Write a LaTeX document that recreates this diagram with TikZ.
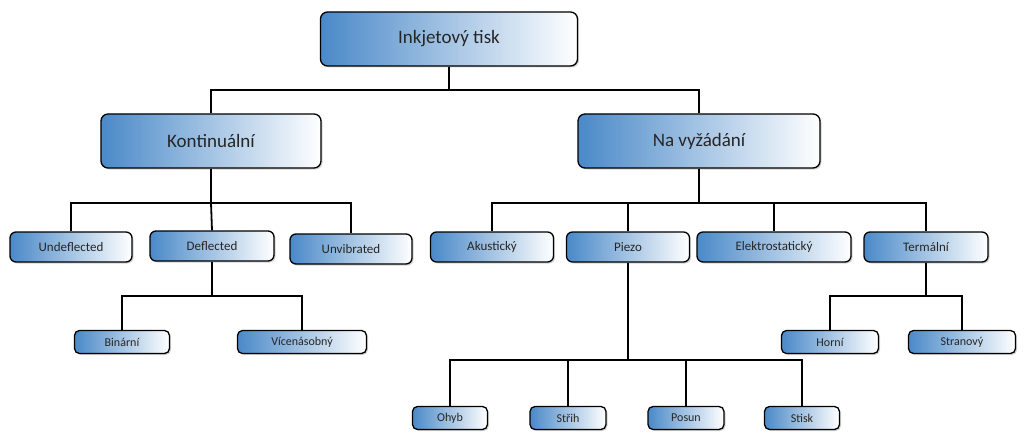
\documentclass[tikz,border=0pt]{standalone}
\usepackage{fontspec}
\setmainfont{Carlito}
\usetikzlibrary{shadows}
\definecolor{boxblue}{HTML}{4A89C8}
\definecolor{txtgray}{HTML}{262626}
\tikzstyle{box} = [rectangle, rounded corners=7pt, draw=black, line width=1.3pt, left color=boxblue, right color=white, text=txtgray, inner sep=0pt, drop shadow={shadow xshift=1.5pt, shadow yshift=-1.5pt, opacity=0.35}]
\tikzstyle{big} = [box, minimum height=54pt, font=\fontsize{19}{22}\selectfont]
\tikzstyle{mid} = [box, minimum height=30pt, rounded corners=6pt, font=\fontsize{13}{15}\selectfont]
\tikzstyle{small} = [box, minimum height=23pt, rounded corners=5pt, font=\fontsize{12}{14}\selectfont]
\tikzstyle{line} = [line width=1.8pt, black]

\begin{document}
\begin{tikzpicture}[x=1pt, y=-1pt]
\useasboundingbox (0,0) rectangle (1024,441);
% Nodi principali
\node (inkjet) [big, minimum width=257pt] at (449,39) {Inkjetový tisk};
\node (kont) [big, minimum width=220pt] at (211,141) {Kontinuální};
\node (navyz) [big, minimum width=242pt] at (699,141) {Na vyžádání};
% Kontinualni
\node (undefl) [mid, minimum width=122pt] at (71,247) {Undeflected};
\node (defl) [mid, minimum width=124pt] at (212,246) {Deflected};
\node (unvib) [mid, minimum width=122pt] at (351,249) {Unvibrated};
\node (binar) [small, minimum width=95pt] at (122,342) {Binární};
\node (vicen) [small, minimum width=129pt] at (302,342) {Vícenásobný};
% Na vyzadani
\node (akust) [mid, minimum width=123pt] at (492,247) {Akustický};
\node (piezo) [mid, minimum width=123pt] at (628,247) {Piezo};
\node (elektro) [mid, minimum width=154pt] at (774,247) {Elektrostatický};
\node (termal) [mid, minimum width=124pt] at (926,247) {Termální};
\node (horni) [small, minimum width=97pt] at (830,342) {Horní};
\node (stran) [small, minimum width=107pt] at (962,342) {Stranový};
\node (ohyb) [small, minimum width=75pt] at (450,418) {Ohyb};
\node (strih) [small, minimum width=76pt] at (568,418) {Střih};
\node (posun) [small, minimum width=76pt] at (686,418) {Posun};
\node (stisk) [small, minimum width=75pt] at (802,418) {Stisk};

% Spojnice
\begin{scope}[on background layer/.style={}]
\draw [line] (inkjet.south) -- (449,90) -| (kont.north);
\draw [line] (449,90) -| (navyz.north);
\draw [line] (kont.south) -- (211,203) -| (undefl.north);
\draw [line] (211,203) -| (unvib.north);
\draw [line] (211,203) -- (defl.north);
\draw [line] (defl.south) -- (212,296) -| (binar.north);
\draw [line] (212,296) -| (vicen.north);
\draw [line] (navyz.south) -- (699,203) -| (akust.north);
\draw [line] (699,203) -| (termal.north);
\draw [line] (628,203) -- (piezo.north);
\draw [line] (774,203) -- (elektro.north);
\draw [line] (termal.south) -- (926,296) -| (horni.north);
\draw [line] (926,296) -| (stran.north);
\draw [line] (piezo.south) -- (628,360) -| (ohyb.north);
\draw [line] (628,360) -| (stisk.north);
\draw [line] (568,360) -- (strih.north);
\draw [line] (686,360) -- (posun.north);
\end{scope}
\end{tikzpicture}
\end{document}
